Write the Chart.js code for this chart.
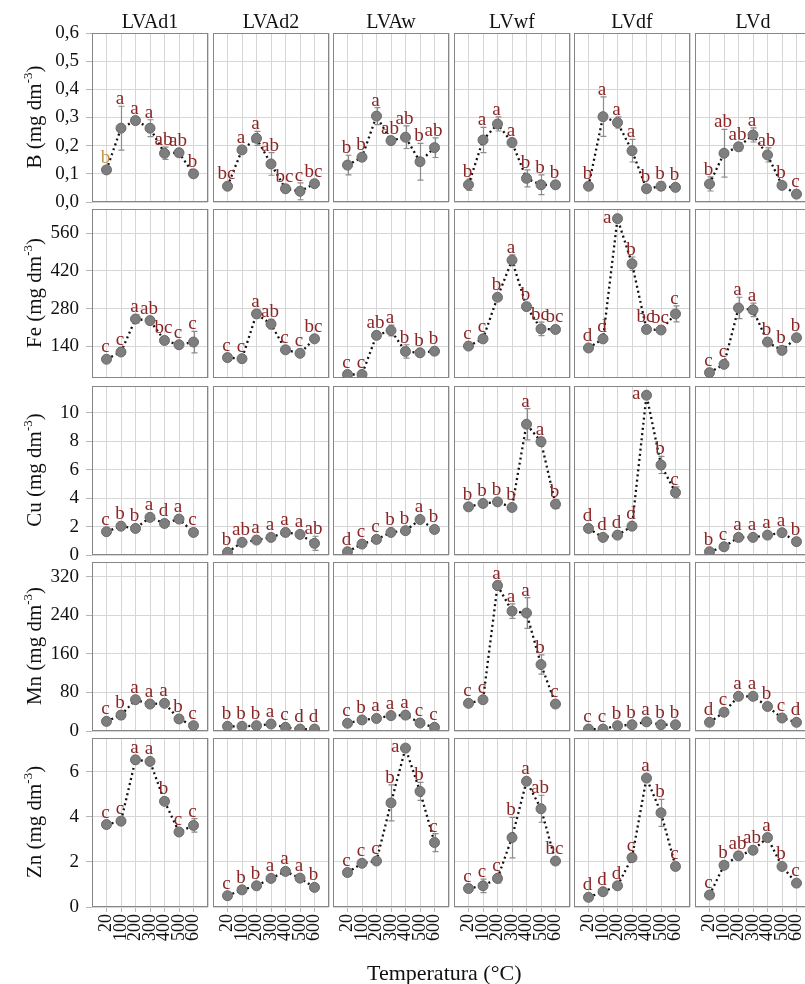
<!DOCTYPE html>
<html>
<head>
<meta charset="utf-8">
<script src="https://cdn.jsdelivr.net/npm/chart.js@4.4.1/dist/chart.umd.min.js"></script>
<style>
  html, body { margin:0; padding:0; background:#fff; }
  #wrap { position:relative; width:805px; height:984px; overflow:hidden; background:#fff; }
  canvas { position:absolute; }
  .ttl { position:absolute; font-family:"Liberation Serif","Times New Roman",serif; color:#111; white-space:nowrap; line-height:20px; font-size:20px; }
  .ytl { position:absolute; font-family:"Liberation Serif","Times New Roman",serif; color:#111; white-space:nowrap; font-size:21px; line-height:22px; transform:translate(-50%,-50%) rotate(-90deg); }
  .ytl sup { font-size:13px; vertical-align:9px; line-height:0; }
</style>
</head>
<body>
<div id="wrap"></div>
<script>
// ---------------- DATA ----------------
const temps = ['20','100','200','300','400','500','600'];
const soils = ['LVAd1','LVAd2','LVAw','LVwf','LVdf','LVd'];
const elements = ['B','Fe','Cu','Mn','Zn'];

const B_ticks  = [0,0.1,0.2,0.3,0.4,0.5,0.6];
const Fe_ticks = [140,280,420,560];
const Cu_ticks = [0,2,4,6,8,10];
const Mn_ticks = [0,80,160,240,320];
const Zn_ticks = [0,2,4,6];

const B_mean = [
  [0.114,0.262,0.289,0.262,0.173,0.175,0.100],
  [0.056,0.185,0.226,0.135,0.047,0.038,0.065],
  [0.131,0.159,0.305,0.218,0.230,0.143,0.193],
  [0.061,0.220,0.277,0.211,0.084,0.061,0.061],
  [0.056,0.303,0.282,0.182,0.047,0.056,0.052],
  [0.064,0.173,0.196,0.238,0.167,0.059,0.028]
];
const B_err = [
  [0.01,0.078,0.01,0.03,0.022,0.01,0.01],
  [0.01,0.01,0.025,0.04,0.01,0.03,0.01],
  [0.035,0.01,0.03,0.01,0.04,0.065,0.035],
  [0.02,0.045,0.025,0.015,0.03,0.035,0.01],
  [0.01,0.07,0.02,0.04,0.01,0.015,0.01],
  [0.025,0.085,0.015,0.025,0.025,0.01,0.01]
];
const B_letters = [
  ['b','a','a','a','ab','ab','b'],
  ['bc','a','a','ab','bc','c','bc'],
  ['b','b','a','ab','ab','b','ab'],
  ['b','a','a','a','b','b','b'],
  ['b','a','a','a','b','b','b'],
  ['b','ab','ab','a','ab','b','c']
];

const Fe_mean = [
  [91,118,241,235,161,145,155],
  [97,93,260,222,126,113,167],
  [34,34,180,198,120,115,121],
  [140,167,322,460,287,204,202],
  [133,167,615,447,202,200,260],
  [41,72,282,275,155,124,171]
];
const Fe_err = [
  [10,10,15,10,10,10,40],
  [10,10,15,18,10,10,10],
  [10,10,10,20,25,10,10],
  [10,10,10,20,12,25,10],
  [10,10,10,25,10,10,30],
  [10,10,40,25,10,10,10]
];
const Fe_letters = [
  ['c','c','a','ab','bc','c','c'],
  ['c','c','a','ab','c','c','bc'],
  ['c','c','ab','a','b','b','b'],
  ['c','c','b','a','b','bc','bc'],
  ['d','d','a','b','bc','bc','c'],
  ['c','c','a','a','b','b','b']
];

const Cu_mean = [
  [1.64,2.03,1.87,2.65,2.22,2.53,1.59],
  [0.19,0.89,1.05,1.24,1.59,1.45,0.82],
  [0.23,0.77,1.10,1.59,1.71,2.50,1.80],
  [3.39,3.63,3.74,3.35,9.21,7.98,3.58],
  [1.87,1.24,1.40,2.03,11.25,6.34,4.40],
  [0.23,0.58,1.24,1.24,1.40,1.57,0.94]
];
const Cu_err = [
  [0.15,0.15,0.15,0.15,0.15,0.15,0.15],
  [0.15,0.15,0.15,0.15,0.15,0.15,0.5],
  [0.15,0.15,0.15,0.15,0.15,0.15,0.15],
  [0.15,0.15,0.15,0.15,1.1,0.3,0.3],
  [0.15,0.15,0.15,0.15,0.15,0.6,0.4],
  [0.15,0.15,0.15,0.15,0.15,0.15,0.15]
];
const Cu_letters = [
  ['c','b','b','a','d','a','c'],
  ['b','ab','a','a','a','a','ab'],
  ['d','c','c','b','b','a','b'],
  ['b','b','b','b','a','a','b'],
  ['d','d','d','d','a','b','c'],
  ['b','c','a','a','a','a','b']
];

const Mn_mean = [
  [20,33,65,56,57.5,25,11],
  [9.7,9.7,11,14.5,7.6,4,4],
  [16,23,26,32,33,16.6,7.6],
  [57.5,65,302,249,245,138,56],
  [4,4,11,13,19,13,13],
  [18,39,72,72,51,27,18]
];
const Mn_err = [
  [4,8,4,4,4,4,4],
  [3,3,3,3,3,3,3],
  [3,3,3,3,3,3,3],
  [4,4,10,15,32,20,4],
  [3,3,3,3,3,3,3],
  [3,3,3,3,3,3,3]
];
const Mn_letters = [
  ['c','b','a','a','a','b','c'],
  ['b','b','b','a','c','d','d'],
  ['c','b','a','a','a','c','c'],
  ['c','c','a','a','a','b','c'],
  ['c','c','b','b','a','b','b'],
  ['d','c','a','a','b','c','d']
];

const Zn_mean = [
  [3.66,3.81,6.53,6.46,4.69,3.33,3.62],
  [0.50,0.76,0.94,1.27,1.58,1.28,0.87],
  [1.53,1.94,2.04,4.62,7.05,5.13,2.86],
  [0.82,0.94,1.27,3.08,5.58,4.36,2.04],
  [0.43,0.68,0.94,2.19,5.72,4.18,1.80],
  [0.53,1.85,2.27,2.52,3.08,1.80,1.06]
];
const Zn_err = [
  [0.1,0.1,0.1,0.1,0.15,0.1,0.3],
  [0.1,0.1,0.1,0.1,0.1,0.1,0.1],
  [0.15,0.1,0.1,0.8,0.1,0.4,0.4],
  [0.1,0.3,0.2,0.9,0.1,0.6,0.1],
  [0.1,0.1,0.1,0.15,0.1,0.6,0.1],
  [0.15,0.1,0.1,0.15,0.1,0.1,0.1]
];
const Zn_letters = [
  ['c','c','a','a','b','c','c'],
  ['c','b','b','a','a','a','b'],
  ['c','c','c','b','a','b','c'],
  ['c','c','c','b','a','ab','bc'],
  ['d','d','d','c','a','b','c'],
  ['c','b','ab','ab','a','b','c']
];

// ---------------- CONFIG (scales / styles) ----------------
const rows = [
  {name:'B',  mean:B_mean,  err:B_err,  letters:B_letters,  ticks:B_ticks,  min:0,  max:0.6,  dec:1},
  {name:'Fe', mean:Fe_mean, err:Fe_err, letters:Fe_letters, ticks:Fe_ticks, min:21, max:651,  dec:0},
  {name:'Cu', mean:Cu_mean, err:Cu_err, letters:Cu_letters, ticks:Cu_ticks, min:0,  max:11.9, dec:0},
  {name:'Mn', mean:Mn_mean, err:Mn_err, letters:Mn_letters, ticks:Mn_ticks, min:0,  max:351,  dec:0},
  {name:'Zn', mean:Zn_mean, err:Zn_err, letters:Zn_letters, ticks:Zn_ticks, min:0,  max:7.5,  dec:0}
];
const SERIF = '"Liberation Serif","Times New Roman",serif';
const LETTER_COLOR = '#8b2525';
const special = {r:0, c:0, i:0, color:'#c3954a'};

const wrap = document.getElementById('wrap');

function panelPlugin(r, c, errs, letters) {
  return {
    id: 'panel'+r+'_'+c,
    beforeDatasetsDraw(chart) {
      const {ctx, chartArea:a} = chart;
      const ys = chart.scales.y;
      ctx.save();
      ctx.strokeStyle = '#868686';
      ctx.lineWidth = 1;
      ctx.strokeRect(Math.round(a.left)+0.5, Math.round(a.top)+0.5,
                     Math.round(a.right - a.left)-1, Math.round(a.bottom - a.top)-1);
      const meta = chart.getDatasetMeta(0);
      const vals = chart.data.datasets[0].data;
      ctx.strokeStyle = '#8c8c8c';
      ctx.lineWidth = 1.2;
      meta.data.forEach((pt, k) => {
        const v = vals[k];
        if (v == null) return;
        const e = errs[k-1];
        const y1 = ys.getPixelForValue(v + e), y2 = ys.getPixelForValue(v - e);
        const x = Math.round(pt.x) + 0.5;
        ctx.beginPath();
        ctx.moveTo(x, y1); ctx.lineTo(x, y2);
        ctx.moveTo(x-3, y1); ctx.lineTo(x+3, y1);
        ctx.moveTo(x-3, y2); ctx.lineTo(x+3, y2);
        ctx.stroke();
      });
      ctx.restore();
    },
    afterDatasetsDraw(chart) {
      const {ctx, chartArea:a} = chart;
      const ys = chart.scales.y;
      const meta = chart.getDatasetMeta(0);
      const vals = chart.data.datasets[0].data;
      ctx.save();
      ctx.font = '19px ' + SERIF;
      meta.data.forEach((pt, k) => {
        const v = vals[k];
        if (v == null) return;
        const i = k-1;
        const t = letters[i];
        const e = errs[i];
        const m = ctx.measureText(t);
        const asc = m.actualBoundingBoxAscent;
        const top = Math.min(ys.getPixelForValue(v + e), pt.y - 5);
        let base = top - 2;
        ctx.fillStyle = (r===special.r && c===special.c && i===special.i) ? special.color : LETTER_COLOR;
        if (base - asc < a.top + 1) {
          ctx.textAlign = 'right';
          ctx.textBaseline = 'alphabetic';
          ctx.fillText(t, pt.x - 6, pt.y + 4);
        } else {
          ctx.textAlign = 'center';
          ctx.textBaseline = 'alphabetic';
          ctx.fillText(t, pt.x - 1, base);
        }
      });
      ctx.restore();
    }
  };
}

function makePanel(r, c) {
  const row = rows[r];
  const L = Math.round(92 + c*120.5), T = Math.round(33 + r*176.25);
  const W = 116, H = 169;
  const yW = c===0 ? 47 : 0, xH = r===4 ? 52 : 0;
  const pad = {top:12, bottom:12, left:2, right:2};
  const cw = W + yW + pad.left + pad.right;
  const chh = H + xH + pad.top + pad.bottom;
  const cv = document.createElement('canvas');
  cv.width = cw; cv.height = chh;
  cv.style.width = cw+'px'; cv.style.height = chh+'px';
  cv.style.left = (L - yW - pad.left)+'px';
  cv.style.top = (T - pad.top)+'px';
  wrap.appendChild(cv);

  const labels = [''].concat(temps, ['']);
  const data = [null].concat(row.mean[c], [null]);

  new Chart(cv, {
    type: 'line',
    data: {
      labels: labels,
      datasets: [{
        data: data,
        borderColor: '#111',
        borderWidth: 2.3,
        borderDash: [2, 3.2],
        borderCapStyle: 'butt',
        tension: 0,
        fill: false,
        pointRadius: 5,
        pointHoverRadius: 5,
        pointBackgroundColor: '#7e7e7e',
        pointBorderColor: '#6a6a6a',
        pointBorderWidth: 1
      }]
    },
    options: {
      responsive: false,
      animation: false,
      events: [],
      layout: { padding: pad, autoPadding: false },
      plugins: { legend:{display:false}, tooltip:{enabled:false} },
      scales: {
        x: {
          type: 'category',
          offset: false,
          border: { display:false },
          grid: {
            color: '#d6d6d6', lineWidth: 1,
            drawTicks: r===4, tickLength: 5,
            tickColor: (ctx) => (ctx.index===0 || ctx.index===8) ? 'rgba(0,0,0,0)' : '#b5b5b5'
          },
          ticks: {
            display: r===4,
            autoSkip: false, maxRotation: 90, minRotation: 90,
            padding: 2,
            color: '#111',
            font: { family: SERIF, size: 18 }
          },
          afterFit: (s) => { s.height = xH; s.paddingLeft = 0; s.paddingRight = 0; }
        },
        y: {
          type: 'linear',
          min: row.min, max: row.max,
          border: { display:false },
          grid: { color: '#d6d6d6', lineWidth: 1, drawTicks: c===0, tickLength: 6, tickColor:'#b5b5b5' },
          ticks: {
            display: c===0,
            padding: 7,
            color: '#111',
            font: { family: SERIF, size: 19 },
            callback: (v) => row.dec ? v.toFixed(row.dec).replace('.', ',') : String(v)
          },
          afterBuildTicks: (s) => { s.ticks = row.ticks.map(v => ({value:v})); },
          afterFit: (s) => { s.width = yW; s.paddingTop = 0; s.paddingBottom = 0; }
        }
      }
    },
    plugins: [panelPlugin(r, c, row.err[c], row.letters[c])]
  });
}

for (let r = 0; r < rows.length; r++) {
  for (let c = 0; c < soils.length; c++) makePanel(r, c);
}

// column titles
soils.forEach((s, c) => {
  const d = document.createElement('div');
  d.className = 'ttl';
  d.textContent = s;
  const L = Math.round(92 + c*120.5);
  d.style.left = (L + 58)+'px';
  d.style.top = '11px';
  d.style.transform = 'translateX(-50%)';
  wrap.appendChild(d);
});

// row (y-axis) titles
rows.forEach((row, r) => {
  const d = document.createElement('div');
  d.className = 'ytl';
  d.innerHTML = row.name + ' (mg dm<sup>-3</sup>)';
  const T = Math.round(33 + r*176.25);
  d.style.left = '34px';
  d.style.top = (T + 84)+'px';
  wrap.appendChild(d);
});

// x axis title
const xt = document.createElement('div');
xt.className = 'ttl';
xt.textContent = 'Temperatura (°C)';
xt.style.fontSize = '22px';
xt.style.left = '367px';
xt.style.top = '963px';
wrap.appendChild(xt);
</script>
</body>
</html>
